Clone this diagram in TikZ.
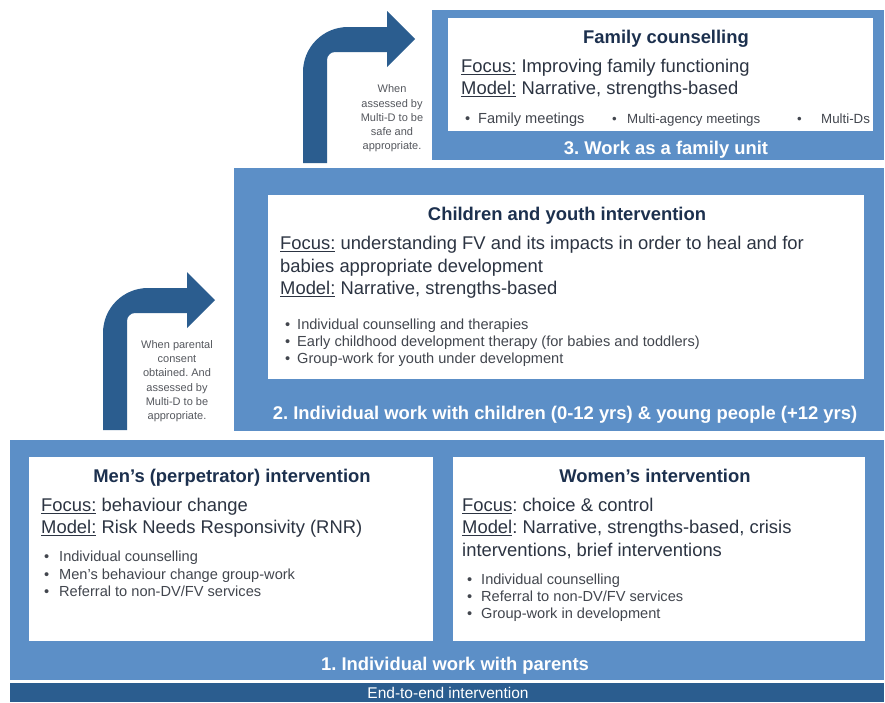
\documentclass[tikz,border=0pt]{standalone}
\usepackage{fontspec}
\setmainfont{Liberation Sans}

\definecolor{panelblue}{RGB}{92,143,199}
\definecolor{deepblue}{RGB}{43,93,143}
\definecolor{titleink}{RGB}{28,48,78}
\definecolor{bodyink}{RGB}{44,52,66}
\definecolor{listink}{RGB}{66,70,78}
\definecolor{noteink}{RGB}{85,88,94}

\newcommand\fvul[1]{\underline{#1}}

\tikzset{
  panel/.style={fill=panelblue},
  card/.style={fill=white},
  bar/.style={fill=deepblue},
  bendarrow/.style={fill=deepblue},
  heading/.style={font=\fontsize{18.4}{22}\selectfont\bfseries, text=titleink, inner sep=0pt, anchor=base},
  body/.style={font=\fontsize{18.4}{22}\selectfont, text=bodyink, inner sep=0pt, anchor=base west},
  item/.style={font=\fontsize{14.6}{17}\selectfont, text=listink, inner sep=0pt, anchor=base west},
  smallitem/.style={item, font=\fontsize{13.3}{16}\selectfont},
  tier/.style={font=\fontsize{18.4}{22}\selectfont\bfseries, text=white, inner sep=0pt, anchor=base},
  barlabel/.style={font=\fontsize{15.5}{18}\selectfont, text=white, inner sep=0pt, anchor=base},
  note/.style={font=\fontsize{11}{14.3}\selectfont, text=noteink, align=center, inner sep=0pt},
}

\begin{document}
\frenchspacing
\begin{tikzpicture}[x=1pt,y=-1pt]
  \fill[white] (0,0) rectangle (885,702);
  \useasboundingbox (0,0) rectangle (885,702);

  % tier panels and the end-to-end bar
  \fill[panel] (432,10) rectangle (884,160);
  \fill[panel] (234,168) rectangle (884,431);
  \fill[panel] (10,440) rectangle (884,680);
  \fill[bar]   (10,683) rectangle (884,702);

  % white cards
  \fill[card] (448,18) rectangle (873,131);
  \fill[card] (268,195) rectangle (864,379);
  \fill[card] (29,457) rectangle (433,641);
  \fill[card] (453,457) rectangle (865,641);

  % bent arrows between tiers
  \fill[bendarrow] (103,430) -- (103,333)
    .. controls (103,308.1) and (123.1,288) .. (148,288)
    -- (187,288) -- (187,272) -- (215,300) -- (187,328) -- (187,313) -- (135,313)
    .. controls (130.6,313) and (127,316.6) .. (127,321)
    -- (127,430) -- cycle;
  \fill[bendarrow] (303,163) -- (303,72)
    .. controls (303,47.1) and (323.1,27) .. (348,27)
    -- (387,27) -- (387,11) -- (415,39) -- (387,67) -- (387,52) -- (335,52)
    .. controls (330.6,52) and (327,55.6) .. (327,60)
    -- (327,163) -- cycle;

  \node[note] (n1) at (177,381) {When parental\\consent\\obtained. And\\assessed by\\Multi-D to be\\appropriate.};
  \node[note] (n2) at (392,118.5) {When\\assessed by\\Multi-D to be\\safe and\\appropriate.};

  % tier 3
  \node[heading] (t3) at (666,43.5) {Family counselling};
  \node[body] (f3) at (461,72.5) {\fvul{Focus:} Improving family functioning};
  \node[body] (m3) at (461,94.5) {\fvul{Model:} Narrative, strengths-based};
  \node[item] (b3a) at (465,123) {•};
  \node[item] (i3a) at (478,123) {Family meetings};
  \node[smallitem] (b3b) at (612,123) {•};
  \node[smallitem] (i3b) at (627,123) {Multi-agency meetings};
  \node[smallitem] (b3c) at (797,123) {•};
  \node[smallitem] (i3c) at (821,123) {Multi-Ds};
  \node[tier] (l3) at (666,154.5) {3. Work as a family unit};

  % tier 2
  \node[heading] (t2) at (567,220.5) {Children and youth intervention};
  \node[body] (f2) at (280,249.5) {\fvul{Focus:} understanding FV and its impacts in order to heal and for};
  \node[body] (f2b) at (280,272.5) {babies appropriate development};
  \node[body] (m2) at (280,294.5) {\fvul{Model:} Narrative, strengths-based};
  \node[item] (i2a) at (285,329) {\makebox[12pt][l]{•}Individual counselling and therapies};
  \node[item] (i2b) at (285,346) {\makebox[12pt][l]{•}Early childhood development therapy (for babies and toddlers)};
  \node[item] (i2c) at (285,363) {\makebox[12pt][l]{•}Group-work for youth under development};
  \node[tier] (l2) at (565,419.5) {2. Individual work with children (0-12 yrs) \& young people (+12 yrs)};

  % tier 1, men
  \node[heading] (t1a) at (232,482.5) {Men’s (perpetrator) intervention};
  \node[body] (f1a) at (41,511.5) {\fvul{Focus:} behaviour change};
  \node[body] (m1a) at (41,533.5) {\fvul{Model:} Risk Needs Responsivity (RNR)};
  \node[item] (i1a) at (44,561) {\makebox[15pt][l]{•}Individual counselling};
  \node[item] (i1b) at (44,579) {\makebox[15pt][l]{•}Men’s behaviour change group-work};
  \node[item] (i1c) at (44,596) {\makebox[15pt][l]{•}Referral to non-DV/FV services};

  % tier 1, women
  \node[heading] (t1b) at (655,482.5) {Women’s intervention};
  \node[body] (f1b) at (462,511.5) {\fvul{Focus}: choice \& control};
  \node[body] (m1b) at (462,533.5) {\fvul{Model}: Narrative, strengths-based, crisis};
  \node[body] (m1c) at (462,556.5) {interventions, brief interventions};
  \node[item] (j1a) at (467,584) {\makebox[14pt][l]{•}Individual counselling};
  \node[item] (j1b) at (467,601) {\makebox[14pt][l]{•}Referral to non-DV/FV services};
  \node[item] (j1c) at (467,618) {\makebox[14pt][l]{•}Group-work in development};

  \node[tier] (l1) at (455,670.5) {1. Individual work with parents};
  \node[barlabel] (e2e) at (448,698.5) {End-to-end intervention};
\end{tikzpicture}
\end{document}
